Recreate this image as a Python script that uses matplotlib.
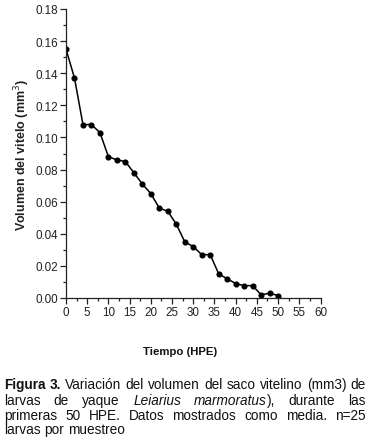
import matplotlib
matplotlib.use("Agg")
import matplotlib.pyplot as plt
from matplotlib.ticker import MultipleLocator, FormatStrFormatter

hours = [0, 2, 4, 6, 8, 10, 12, 14, 16, 18, 20, 22, 24, 26, 28, 30, 32, 34, 36, 38, 40, 42, 44, 46, 48, 50]
volume = [0.155, 0.137, 0.108, 0.108, 0.103, 0.088, 0.086, 0.085, 0.078, 0.071, 0.065, 0.056, 0.054,
          0.046, 0.035, 0.032, 0.027, 0.027, 0.015, 0.012, 0.009, 0.0077, 0.0077, 0.002, 0.003, 0.0015]

xlabel = "Tiempo (HPE)"
ylabel = "Volumen del vitelo (mm$^3$)"
caption_lines = [
    [("Figura 3.", "bold", "normal"), ("Variación del volumen del saco vitelino (mm3) de", "normal", "normal")],
    [("larvas de yaque", "normal", "normal"), ("Leiarius marmoratus", "normal", "italic"), ("), durante las", "normal", "normal")],
    [("primeras 50 HPE. Datos mostrados como media. n=25", "normal", "normal")],
    [("larvas por muestreo", "normal", "normal")],
]

plt.rcParams['font.family'] = ['Liberation Sans', 'DejaVu Sans']
W, H = 369, 439
fig = plt.figure(figsize=(W / 100, H / 100), dpi=100)
ax = fig.add_axes([66 / W, 1 - 299 / H, (320.5 - 66) / W, (299 - 10) / H])

ax.plot(hours, volume, color='black', lw=1.1, marker='o', ms=3.4, mfc='black', mec='black')
ax.set_xlim(0, 60)
ax.set_ylim(0, 0.18)
ax.xaxis.set_major_locator(MultipleLocator(5))
ax.xaxis.set_minor_locator(MultipleLocator(2.5))
ax.yaxis.set_major_locator(MultipleLocator(0.02))
ax.yaxis.set_minor_locator(MultipleLocator(0.01))
ax.yaxis.set_major_formatter(FormatStrFormatter('%.2f'))
for s in ['top', 'right']:
    ax.spines[s].set_visible(False)
for s in ['left', 'bottom']:
    ax.spines[s].set_color('#222222')
    ax.spines[s].set_linewidth(0.9)
ax.tick_params(which='major', length=4, width=0.9, color='#222222', labelsize=8.4, labelcolor='#222222', pad=2)
ax.tick_params(which='minor', length=2.5, width=0.9, color='#222222')
ax.patch.set_alpha(0)

fig.text(180 / W, 1 - 352 / H, xlabel, ha='center', va='center', fontsize=8.2, fontweight='bold', color='#111111')
fig.text(22 / W, 1 - 155 / H, ylabel, ha='center', va='center', rotation=90, fontsize=9, fontweight='bold', color='#222222')

# caption, justified
fig.canvas.draw()
renderer = fig.canvas.get_renderer()
left, right = 4, 366
ys = [385, 401, 416, 430]
fs = 9.8
for i, (segs, yc) in enumerate(zip(caption_lines, ys)):
    words = []
    for text, weight, style in segs:
        for w in text.split(' '):
            words.append((w, weight, style))
    merged = []
    for w in words:
        merged.append((w[0], w[1], w[2], bool(merged) and w[0].startswith(')')))
    objs = []
    for w, weight, style, glue in merged:
        t = fig.text(0, 1 - yc / H, w, ha='left', va='center', fontsize=fs, fontweight=weight,
                     fontstyle=style, color='#111111')
        objs.append((t, glue))
    widths = [t.get_window_extent(renderer).width for t, _ in objs]
    ngaps = sum(1 for k in range(1, len(objs)) if not objs[k][1])
    total = sum(widths)
    last = (i == len(caption_lines) - 1)
    gap = 3.8 if last else (right - left - total) / max(ngaps, 1)
    x = left
    for k, ((t, glue), wdt) in enumerate(zip(objs, widths)):
        if k > 0 and not glue:
            x += gap
        t.set_x(x / W)
        x += wdt

fig.savefig("out.png", dpi=100)
